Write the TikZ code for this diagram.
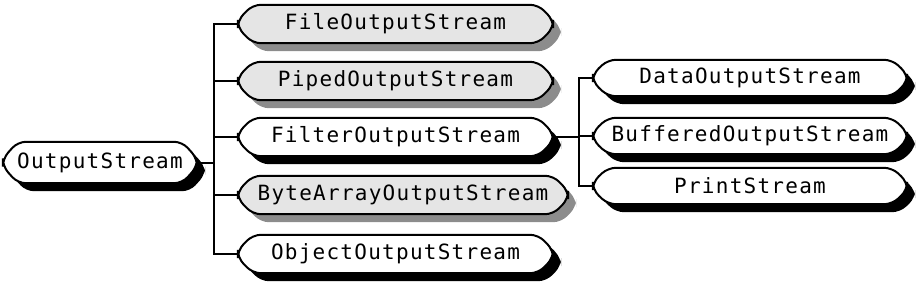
\documentclass[tikz,border=0pt]{standalone}
\usepackage{fontspec}
\newfontfamily\streamfont[LetterSpace=6.0]{DejaVu Sans Mono}
\usetikzlibrary{calc,backgrounds}
\definecolor{boxgray}{gray}{0.9}
\definecolor{shadowgray}{gray}{0.55}

\begin{document}
\begin{tikzpicture}[x=1pt, y=-1pt,
    cls/.style={rectangle, minimum width=315pt, minimum height=38pt,
        inner sep=0pt, font=\streamfont\fontsize{21pt}{24pt}\selectfont},
    link/.style={line width=2pt},
    streamshape/.style n args={2}{insert path={
        ($(#1.north west)+(#2)+(15,0)$) -- ($(#1.north east)+(#2)+(-15,0)$)
        -- ($(#1.east)+(#2)+(0,-4)$) -- ($(#1.east)+(#2)+(0,4)$)
        -- ($(#1.south east)+(#2)+(-15,0)$) -- ($(#1.south west)+(#2)+(15,0)$)
        -- ($(#1.west)+(#2)+(0,4)$) -- ($(#1.west)+(#2)+(0,-4)$) -- cycle}}
]
    \useasboundingbox (0,0) rectangle (918,284);

    % root
    \node[cls, minimum width=194pt, minimum height=41pt] (out) at (100,162.5) {OutputStream};

    % direct subclasses
    \node[cls] (file)   at (395.5,24)  {FileOutputStream};
    \node[cls] (piped)  at (395.5,81)  {PipedOutputStream};
    \node[cls] (filter) at (395.5,137) {FilterOutputStream};
    \node[cls, minimum width=330pt] (bytes) at (403,195) {ByteArrayOutputStream};
    \node[cls] (object) at (395.5,254) {ObjectOutputStream};

    % filter subclasses
    \node[cls, minimum width=314pt, minimum height=36pt] (data)     at (750,78)  {DataOutputStream};
    \node[cls, minimum width=314pt, minimum height=36pt] (buffered) at (750,136) {BufferedOutputStream};
    \node[cls, minimum width=314pt, minimum height=36pt] (print)    at (750,186) {PrintStream};

    \coordinate (trunk) at (214,162.5);
    \coordinate (fork)  at (579,137);

    \draw[link] (out.east) -- (trunk);
    \foreach \n in {file,piped,filter,bytes,object}
        \draw[link] (trunk) |- (\n.west);
    \draw[link] (filter.east) -- (fork);
    \foreach \n in {data,buffered,print}
        \draw[link] (fork) |- (\n.west);

    \begin{scope}[on background layer]
        \foreach \n/\f/\s in {out/white/black, file/boxgray/shadowgray,
                piped/boxgray/shadowgray, filter/white/black, bytes/boxgray/shadowgray,
                object/white/black, data/white/black, buffered/white/black, print/white/black}{
            \fill[\s, rounded corners=8pt, streamshape={\n}{8,8}];
            \draw[link, fill=\f, rounded corners=8pt, streamshape={\n}{0,0}];
        }
    \end{scope}
\end{tikzpicture}
\end{document}
